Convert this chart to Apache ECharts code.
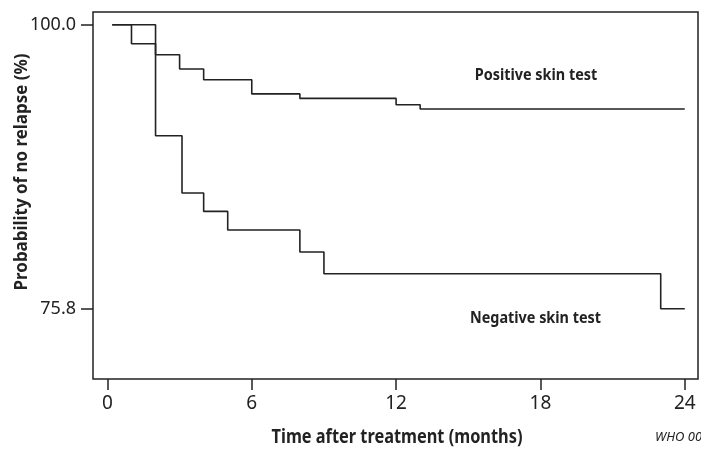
<!DOCTYPE html>
<html>
<head>
<meta charset="utf-8">
<script src="https://cdn.jsdelivr.net/npm/echarts@6/dist/echarts.min.js"></script>
<style>
html,body{margin:0;padding:0;background:#fff;}
#chart{width:701px;height:450px;}
</style>
</head>
<body>
<div id="chart"></div>
<script>
// Positive skin test (months, survival %)
var timesPos = [0.2, 1, 2, 3, 4, 6, 8, 12, 13, 24];
var survPos  = [100, 98.38, 97.44, 96.22, 95.31, 94.10, 93.72, 93.18, 92.82, 92.82];
// Negative skin test
var timesNeg = [0.2, 2, 3.1, 4, 5, 8, 9, 23, 24];
var survNeg  = [100, 90.54, 85.66, 84.09, 82.51, 80.63, 78.78, 75.8, 75.8];
// Tick labels
var xTicks = [0, 6, 12, 18, 24];
var yTicks = [75.8, 100.0];
var seriesLabels = ['Positive skin test', 'Negative skin test'];

function pairs(xs, ys) { return xs.map(function (x, i) { return [x, ys[i]]; }); }

var FONT = '"Noto Sans", sans-serif';
var chart = echarts.init(document.getElementById('chart'), null, {renderer: 'canvas'});
var lineStyle = {color: '#222', width: 1.6};
chart.setOption({
  animation: false,
  grid: {left: 93, top: 12, right: 3, bottom: 71, show: true, borderColor: '#222', borderWidth: 1.5, containLabel: false},
  xAxis: {
    type: 'value', min: -0.6, max: 24.55,
    axisLine: {show: false, onZero: false},
    splitLine: {show: false},
    axisTick: {show: true, inside: false, customValues: xTicks, length: 11, lineStyle: {color: '#222', width: 1.5}},
    axisLabel: {customValues: xTicks, margin: 15, fontSize: 19, color: '#222', fontFamily: FONT}
  },
  yAxis: {
    type: 'value', min: 69.81, max: 101.08,
    axisLine: {show: false, onZero: false},
    splitLine: {show: false},
    axisTick: {show: true, inside: false, customValues: yTicks, length: 12, lineStyle: {color: '#222', width: 1.5}},
    axisLabel: {customValues: yTicks, margin: 17, fontSize: 18, color: '#222', fontFamily: FONT,
      formatter: function (v) { return Number(v).toFixed(1); }}
  },
  series: [
    {type: 'line', name: seriesLabels[0], step: 'end', data: pairs(timesPos, survPos), showSymbol: false, lineStyle: lineStyle, z: 3},
    {type: 'line', name: seriesLabels[1], step: 'end', data: pairs(timesNeg, survNeg), showSymbol: false, lineStyle: lineStyle, z: 3}
  ],
  graphic: [
    {type: 'text', x: 536, y: 75, scaleX: 0.9, style: {text: seriesLabels[0], font: 'bold 16px ' + FONT, fill: '#222', align: 'center', verticalAlign: 'middle'}},
    {type: 'text', x: 535.5, y: 318, scaleX: 0.9, style: {text: seriesLabels[1], font: 'bold 16px ' + FONT, fill: '#222', align: 'center', verticalAlign: 'middle'}},
    {type: 'text', x: 397, y: 438, scaleX: 0.86, style: {text: 'Time after treatment (months)', font: 'bold 19px ' + FONT, fill: '#222', align: 'center', verticalAlign: 'middle'}},
    {type: 'text', x: 22, y: 172, rotation: Math.PI / 2, scaleX: 0.94, style: {text: 'Probability of no relapse (%)', font: 'bold 18px ' + FONT, fill: '#222', align: 'center', verticalAlign: 'middle'}},
    {type: 'text', left: 655, top: 431, style: {text: 'WHO 00', font: 'italic 13px ' + FONT, fill: '#222'}}
  ]
});
</script>
</body>
</html>
